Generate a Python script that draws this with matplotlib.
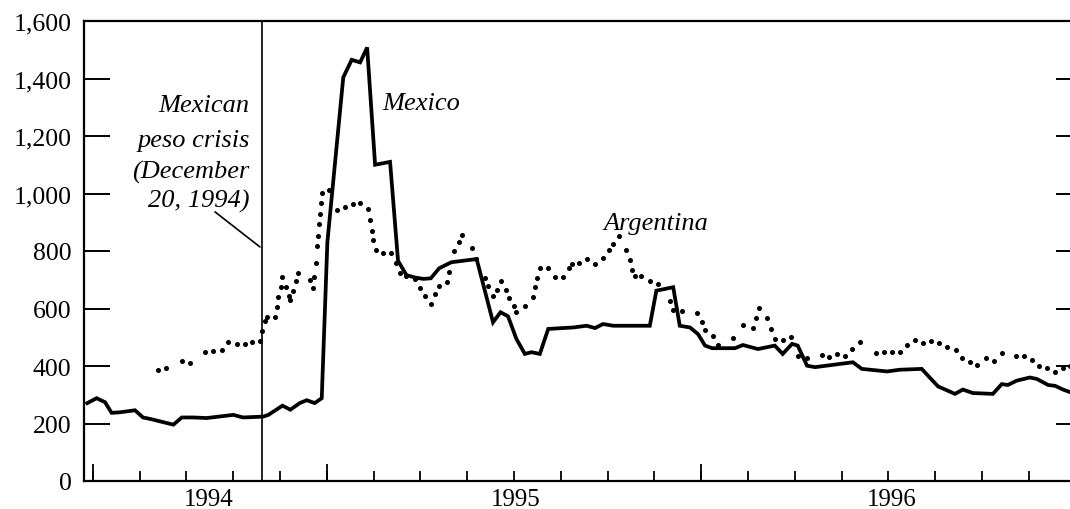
import matplotlib
matplotlib.use("Agg")
import matplotlib.pyplot as plt
from matplotlib.ticker import FuncFormatter

# x values are months measured from the first x-axis tick (tick spacing = 1 month)
mexico_x = [-0.12, 0.08, 0.26, 0.40, 0.58, 0.90, 1.07, 1.22, 1.72, 1.90, 2.14, 2.43,
            3.00, 3.21, 3.64, 3.75, 3.89, 4.05, 4.22, 4.42, 4.57, 4.74, 4.89, 5.01,
            5.35, 5.53, 5.71, 5.86, 6.03, 6.35, 6.52, 6.70, 6.88, 7.06, 7.22, 7.40,
            7.66, 8.20, 8.55, 8.71, 8.87, 9.05, 9.23, 9.37, 9.55, 9.73, 10.26, 10.55,
            10.73, 10.90, 11.12, 11.90, 12.04, 12.40, 12.54, 12.76, 12.93, 13.08,
            13.23, 13.72, 13.89, 14.21, 14.57, 14.74, 14.94, 15.06, 15.26, 15.43,
            15.81, 16.24, 16.43, 16.97, 17.24, 17.71, 17.88, 18.06, 18.42, 18.59,
            18.80, 19.23, 19.42, 19.55, 19.74, 20.02, 20.17, 20.41, 20.56, 20.73, 20.88]
mexico_y = [271, 288, 274, 237, 239, 246, 221, 216, 196, 221, 221, 219,
            230, 221, 224, 230, 245, 262, 248, 271, 281, 271, 288, 830,
            1404, 1465, 1456, 1508, 1100, 1110, 766, 716, 708, 703, 705, 740,
            761, 772, 552, 587, 573, 494, 442, 448, 442, 529, 534, 540,
            532, 546, 540, 540, 662, 674, 540, 534, 511, 471,
            462, 462, 473, 459, 471, 442, 477, 471, 401, 396,
            404, 413, 390, 381, 387, 390, 360, 329, 303, 318,
            306, 303, 337, 334, 349, 360, 355, 334, 331, 318, 309]

argentina_x = [1.40, 1.57, 1.90, 2.07, 2.39, 2.57, 2.75, 2.89, 3.07, 3.25, 3.39, 3.57,
               3.62, 3.68, 3.72, 3.89, 3.93, 3.96, 4.01, 4.05, 4.12, 4.19, 4.22, 4.28,
               4.35, 4.39, 4.64, 4.71, 4.73, 4.76, 4.79, 4.81, 4.84, 4.85, 4.87, 4.89,
               5.04, 5.21, 5.38, 5.56, 5.71, 5.88, 5.92, 5.96, 5.99, 6.06, 6.20, 6.38,
               6.47, 6.56, 6.70, 6.88, 6.99, 7.09, 7.22, 7.31, 7.40, 7.56, 7.61, 7.71,
               7.83, 7.89, 8.09, 8.18, 8.38, 8.45, 8.55, 8.63, 8.73, 8.82, 8.90, 9.00,
               9.05, 9.23, 9.40, 9.44, 9.49, 9.55, 9.73, 9.87, 10.05, 10.18, 10.23, 10.39,
               10.55, 10.73, 10.89, 11.03, 11.12, 11.25, 11.39, 11.47, 11.53, 11.58, 11.72,
               11.90, 12.08, 12.33, 12.40, 12.58, 12.91, 13.01, 13.08, 13.24, 13.36, 13.67,
               13.90, 14.10, 14.17, 14.24, 14.41, 14.49, 14.57, 14.74, 14.91, 15.07, 15.25,
               15.57, 15.73, 15.89, 16.07, 16.23, 16.40, 16.73, 16.90, 17.07, 17.24, 17.40,
               17.56, 17.73, 17.90, 18.07, 18.24, 18.44, 18.58, 18.74, 18.90, 19.09, 19.25,
               19.42, 19.72, 19.89, 20.06, 20.22, 20.38, 20.56, 20.73, 20.88]
argentina_y = [387, 392, 416, 412, 448, 453, 456, 485, 478, 478, 482, 486,
               523, 558, 569, 569, 604, 639, 674, 708, 676, 642, 630, 662,
               696, 723, 699, 670, 708, 760, 818, 853, 894, 929, 967, 1001,
               1013, 943, 952, 963, 966, 946, 909, 871, 839, 804, 792, 793,
               758, 723, 712, 703, 670, 645, 616, 650, 679, 693, 728, 799,
               830, 856, 810, 772, 705, 677, 645, 664, 696, 664, 636, 608,
               587, 610, 639, 674, 705, 740, 740, 709, 708, 740, 755, 757,
               772, 755, 775, 804, 824, 853, 804, 769, 735, 714, 714,
               696, 686, 627, 595, 592, 584, 552, 526, 503, 473, 496,
               543, 532, 566, 601, 566, 529, 494, 491, 500, 436, 427,
               439, 430, 442, 436, 459, 485, 445, 450, 448, 450, 474,
               490, 480, 488, 480, 467, 457, 427, 413, 404, 428, 418,
               444, 436, 436, 421, 401, 393, 380, 393, 401]

crisis_x = 3.61          # December 20, 1994
month_ticks = list(range(21))
tall_ticks = [0, 5, 13]
year_labels = ["1994", "1995", "1996"]
year_pos = [2.48, 9.04, 17.07]
y_ticks = [0, 200, 400, 600, 800, 1000, 1200, 1400, 1600]

plt.rcParams['font.family'] = ['Liberation Serif', 'DejaVu Serif']

W, H = 1070, 510
fig = plt.figure(figsize=(W / 100, H / 100), dpi=100)
ax_left, ax_right, ax_bottom, ax_top = 84, 1082, 482, 22
ax = fig.add_axes([ax_left / W, (H - ax_bottom) / H,
                   (ax_right - ax_left) / W, (ax_bottom - ax_top) / H])

x_lo = -0.19
x_hi = x_lo + (ax_right - ax_left) / 46.8
ax.set_xlim(x_lo, x_hi)
ax.set_ylim(0, 1600)

# series
ax.plot(mexico_x, mexico_y, color='black', lw=2.7, solid_joinstyle='miter', zorder=3)
ax.plot(argentina_x, argentina_y, linestyle='none', marker='o', markersize=2.6,
        color='black', zorder=2)

# crisis line
ax.axvline(crisis_x, color='black', lw=1.2, zorder=2)

# spines
for s in ['left', 'bottom', 'top']:
    ax.spines[s].set_linewidth(1.6)
ax.spines['right'].set_visible(False)

# y axis
ax.set_yticks(y_ticks)
ax.yaxis.set_major_formatter(FuncFormatter(lambda v, p: f"{int(v):,}"))
ax.tick_params(axis='y', which='major', direction='in', length=19, width=1.4,
               left=True, right=True, labelsize=18.5, pad=9)

# x axis: year labels as major ticks (no marks), month ticks as minor
ax.set_xticks(year_pos)
ax.set_xticklabels(year_labels)
ax.tick_params(axis='x', which='major', length=0, labelsize=18, pad=5)
ax.set_xticks(month_ticks, minor=True)
ax.tick_params(axis='x', which='minor', direction='in', length=7.5, width=1.3,
               bottom=True, top=False)

sec = ax.secondary_xaxis('bottom')
sec.set_xticks(tall_ticks)
sec.tick_params(direction='in', length=12.5, width=1.3, labelbottom=False)
sec.spines['bottom'].set_visible(False)

# annotations
it = dict(fontsize=19, style='italic', color='black')
ax.text(3.35, 1287, "Mexican", ha='right', va='baseline', **it)
ax.text(3.35, 1165, "peso crisis", ha='right', va='baseline', **it)
ax.text(3.35, 1057, "(December", ha='right', va='baseline', **it)
ax.text(3.35, 953, "20, 1994)", ha='right', va='baseline', **it)
ax.annotate("", xy=(3.57, 814), xytext=(2.61, 936),
            arrowprops=dict(arrowstyle='-', lw=1.2, color='black',
                            shrinkA=0, shrinkB=0))

ax.text(6.18, 1294, "Mexico", ha='left', va='baseline', **it)
ax.text(10.90, 877, "Argentina", ha='left', va='baseline', **it)

fig.savefig("out.png", dpi=100)
